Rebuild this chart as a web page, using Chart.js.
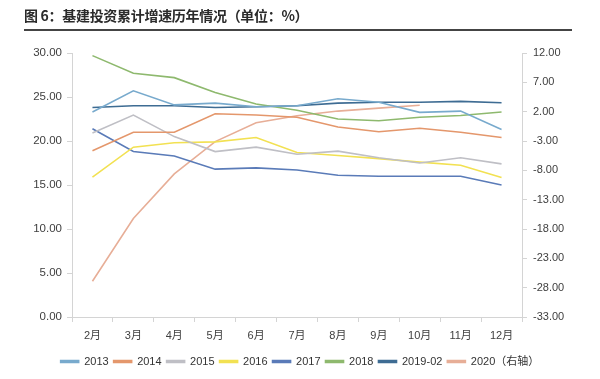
<!DOCTYPE html>
<html>
<head>
<meta charset="utf-8">
<script src="https://cdn.jsdelivr.net/npm/chart.js@4"></script>
<style>
  html, body { margin: 0; padding: 0; background: #fff; }
  #wrap { position: relative; width: 600px; height: 379px; overflow: hidden; }
  #title { position: absolute; left: 24px; top: 5px; font-family: "Noto Sans CJK SC", sans-serif; font-weight: bold; font-size: 14px; color: #2b2b2b; line-height: 20px; white-space: nowrap; letter-spacing: -0.3px; }
  #rule { position: absolute; left: 24px; top: 29px; width: 548px; height: 2px; background: #444; }
  canvas { position: absolute; left: 0; top: 0; }
</style>
</head>
<body>
<div id="wrap">
  <canvas id="c" width="600" height="379"></canvas>
  <div id="title">图 6：基建投资累计增速历年情况（单位：%）</div>
  <div id="rule"></div>
</div>
<script>
const categories = ["2月","3月","4月","5月","6月","7月","8月","9月","10月","11月","12月"];
const leftTicks = [0, 5, 10, 15, 20, 25, 30];
const rightTicks = [-33, -28, -23, -18, -13, -8, -3, 2, 7, 12];

const s2013 = [23.3, 25.7, 24.1, 24.3, 23.9, 24.0, 24.8, 24.4, 23.25, 23.4, 21.3];
const s2014 = [18.9, 21.0, 21.0, 23.1, 22.95, 22.7, 21.6, 21.05, 21.45, 21.0, 20.4];
const s2015 = [20.9, 22.95, 20.5, 18.8, 19.3, 18.5, 18.85, 18.1, 17.5, 18.1, 17.4];
const s2016 = [15.9, 19.3, 19.8, 19.9, 20.4, 18.7, 18.35, 18.0, 17.6, 17.25, 15.85];
const s2017 = [21.4, 18.8, 18.3, 16.8, 16.95, 16.7, 16.1, 16.0, 16.0, 16.0, 15.0];
const s2018 = [29.7, 27.7, 27.2, 25.5, 24.2, 23.5, 22.5, 22.3, 22.7, 22.9, 23.3];
const s2019 = [23.8, 24.0, 24.0, 23.8, 23.9, 24.0, 24.3, 24.4, 24.4, 24.5, 24.35];
const s2020 = [-26.9, -16.2, -8.6, -3.1, 0.1, 1.3, 2.1, 2.6, 3.1, null, null];

const seriesNames = ["2013","2014","2015","2016","2017","2018","2019-02","2020（右轴）"];
const seriesColors = ["#78aacd","#e4976c","#bfbfc5","#f2e152","#5a7bb8","#8eb96e","#3e6c93","#e7ae97"];
const seriesData = [s2013, s2014, s2015, s2016, s2017, s2018, s2019, s2020];

const datasets = seriesData.map((d, i) => ({
  label: seriesNames[i],
  data: d,
  borderColor: seriesColors[i],
  backgroundColor: seriesColors[i],
  borderWidth: 1.6,
  pointRadius: 0,
  pointHoverRadius: 0,
  tension: 0,
  fill: false,
  yAxisID: i === 7 ? 'y1' : 'y'
}));

const FONT = "'Liberation Sans', 'Noto Sans CJK SC', sans-serif";
const AXIS_COLOR = "#d4d4d4";

new Chart(document.getElementById('c'), {
  type: 'line',
  data: { labels: categories, datasets },
  options: {
    responsive: false,
    animation: false,
    devicePixelRatio: 1,
    layout: { padding: { top: 53, left: 0, right: 0, bottom: 2 } },
    plugins: {
      legend: {
        position: 'bottom',
        labels: {
          boxWidth: 18,
          boxHeight: 2,
          padding: 5,
          color: '#333',
          font: { family: FONT, size: 11 }
        }
      },
      tooltip: { enabled: false }
    },
    scales: {
      x: {
        type: 'category',
        offset: true,
        grid: { offset: true, drawOnChartArea: false, drawTicks: true, tickLength: 5, color: AXIS_COLOR },
        border: { display: true, color: AXIS_COLOR, width: 1 },
        ticks: { color: '#404040', font: { family: FONT, size: 11 }, padding: 7, maxRotation: 0, autoSkip: false },
        afterFit: s => { s.height = 34; }
      },
      y: {
        position: 'left',
        min: 0, max: 30,
        afterBuildTicks: s => { s.ticks = leftTicks.map(v => ({ value: v })); },
        grid: { drawOnChartArea: false, drawTicks: true, tickLength: 5, color: AXIS_COLOR },
        border: { display: true, color: AXIS_COLOR, width: 1 },
        ticks: { color: '#404040', font: { family: FONT, size: 11.5 }, padding: 5, callback: v => Number(v).toFixed(2) },
        afterFit: s => { s.width = 72; }
      },
      y1: {
        position: 'right',
        min: -33, max: 12,
        afterBuildTicks: s => { s.ticks = rightTicks.map(v => ({ value: v })); },
        grid: { drawOnChartArea: false, drawTicks: true, tickLength: 5, color: AXIS_COLOR },
        border: { display: true, color: AXIS_COLOR, width: 1 },
        ticks: { color: '#404040', font: { family: FONT, size: 11 }, padding: 6, callback: v => Number(v).toFixed(2) },
        afterFit: s => { s.width = 78; }
      }
    }
  }
});
</script>
</body>
</html>
